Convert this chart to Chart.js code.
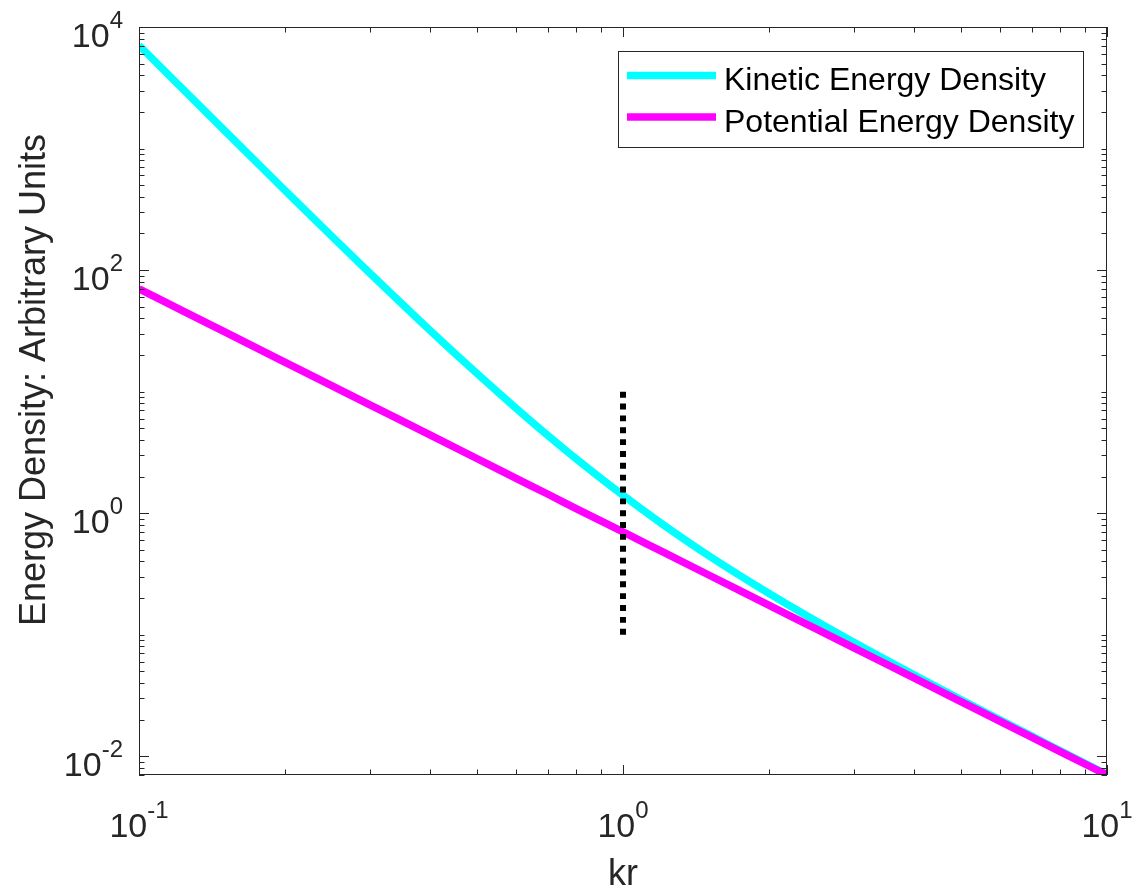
<!DOCTYPE html>
<html>
<head>
<meta charset="utf-8">
<title>Energy Density</title>
<script src="https://cdn.jsdelivr.net/npm/chart.js@4.4.1/dist/chart.umd.min.js"></script>
<style>
  body { margin: 0; background: #fff; }
  canvas { display: block; }
</style>
</head>
<body>
<canvas id="grafica" width="1135" height="888"></canvas>
<script>
// values
const kr = [0.1, 0.12, 0.15, 0.2, 0.25, 0.3, 0.4, 0.5, 0.6, 0.7, 0.8, 1, 1.2, 1.5, 2, 2.5, 3, 4, 5, 6, 7, 8, 10];
const kinetic = [7070, 3425, 1414, 455, 190, 94.2, 31.7, 14.0, 7.35, 4.34, 2.80, 1.40, 0.824, 0.449, 0.219, 0.130, 0.0864, 0.0465, 0.0291, 0.0200, 0.0146, 0.0111, 0.00707];
const potential = [70, 48.6, 31.1, 17.5, 11.2, 7.78, 4.38, 2.80, 1.94, 1.43, 1.09, 0.70, 0.486, 0.311, 0.175, 0.112, 0.0778, 0.0438, 0.028, 0.0194, 0.0143, 0.0109, 0.0070];
// dotted marker at kr = 1
const markerX = [1, 1];
const markerY = [0.1, 10];

const seriesNames = ["Kinetic Energy Density", "Potential Energy Density"];
const seriesColors = ["#00ffff", "#ff00ff"];

// labelled ticks (value, exponent)
const xTicks = [0.1, 1, 10];
const xExp = ["-1", "0", "1"];
const yTicks = [0.01, 1, 100, 10000];
const yExp = ["-2", "0", "2", "4"];

const xLimits = [0.1, 10];
const yLimits = [0.007, 10000];

const fuente = '"Liberation Sans", Arial, Helvetica, sans-serif';
const gris = "#262626";

function puntos(xs, ys) {
  return xs.map(function (v, i) { return { x: v, y: ys[i] }; });
}

// all values m*10^k inside [lo, hi]
function marcasLog(lo, hi) {
  const lista = [];
  for (let k = Math.floor(Math.log10(lo)) - 1; k <= Math.ceil(Math.log10(hi)); k++) {
    for (let m = 1; m <= 9; m++) {
      const v = m * Math.pow(10, k);
      if (v >= lo * 0.9999 && v <= hi * 1.0001) lista.push(v);
    }
  }
  return lista;
}

function esMayor(v, mayores) {
  return mayores.some(function (t) { return Math.abs(Math.log10(v) - Math.log10(t)) < 1e-6; });
}

// "10" with a raised exponent
function potencia(ctx, exp, cx, base, alinear) {
  ctx.font = "34px " + fuente;
  const w1 = ctx.measureText("10").width;
  ctx.font = "24px " + fuente;
  const w2 = ctx.measureText(exp).width;
  const izq = alinear === "right" ? cx - w1 - w2 : cx - (w1 + w2) / 2;
  ctx.textAlign = "left";
  ctx.textBaseline = "alphabetic";
  ctx.font = "34px " + fuente;
  ctx.fillText("10", izq, base);
  ctx.font = "24px " + fuente;
  ctx.fillText(exp, izq + w1, base - 19);
}

const ejes = {
  id: "ejes",
  afterDatasetsDraw(chart) {
    const ctx = chart.ctx;
    const a = chart.chartArea;
    const sx = chart.scales.x;
    const sy = chart.scales.y;
    ctx.save();
    ctx.strokeStyle = gris;
    ctx.lineWidth = 1;
    ctx.strokeRect(a.left + 0.5, a.top + 0.5, a.right - a.left - 1, a.bottom - a.top - 1);

    // ticks pointing inward, all four sides
    ctx.beginPath();
    marcasLog(xLimits[0], xLimits[1]).forEach(function (v) {
      const px = Math.round(sx.getPixelForValue(v)) + 0.5;
      const largo = esMayor(v, xTicks) ? 10 : 5.5;
      ctx.moveTo(px, a.bottom);
      ctx.lineTo(px, a.bottom - largo);
      ctx.moveTo(px, a.top);
      ctx.lineTo(px, a.top + largo);
    });
    marcasLog(yLimits[0], yLimits[1]).forEach(function (v) {
      const py = Math.round(sy.getPixelForValue(v)) + 0.5;
      const largo = esMayor(v, yTicks) ? 10 : 5.5;
      ctx.moveTo(a.left, py);
      ctx.lineTo(a.left + largo, py);
      ctx.moveTo(a.right, py);
      ctx.lineTo(a.right - largo, py);
    });
    ctx.stroke();

    // tick labels
    ctx.fillStyle = gris;
    xTicks.forEach(function (v, i) {
      potencia(ctx, xExp[i], sx.getPixelForValue(v), a.bottom + 62, "center");
    });
    yTicks.forEach(function (v, i) {
      potencia(ctx, yExp[i], a.left - 16, sy.getPixelForValue(v) + 20, "right");
    });

    // axis titles
    ctx.font = "36px " + fuente;
    ctx.textAlign = "center";
    ctx.textBaseline = "alphabetic";
    ctx.fillText("kr", (a.left + a.right) / 2, 885);
    ctx.save();
    ctx.translate(45, 380);
    ctx.rotate(-Math.PI / 2);
    ctx.fillText("Energy Density: Arbitrary Units", 0, 0);
    ctx.restore();

    // legend
    ctx.fillStyle = "#fff";
    ctx.fillRect(618.5, 51.5, 465, 96);
    ctx.strokeStyle = gris;
    ctx.lineWidth = 1;
    ctx.strokeRect(618.5, 51.5, 465, 96);
    ctx.font = "32px " + fuente;
    ctx.textAlign = "left";
    ctx.fillStyle = "#000";
    seriesNames.forEach(function (nombre, i) {
      const fila = 75.5 + i * 41.5;
      ctx.strokeStyle = seriesColors[i];
      ctx.lineWidth = 7.5;
      ctx.beginPath();
      ctx.moveTo(627, fila);
      ctx.lineTo(716, fila);
      ctx.stroke();
      ctx.fillText(nombre, 724, fila + 14.5);
    });
    ctx.restore();
  }
};

const config = {
  type: "line",
  data: {
    datasets: [
      {
        label: "marker",
        data: puntos(markerX, markerY),
        borderColor: "#000",
        borderWidth: 6,
        borderDash: [5.9, 5.95],
        borderCapStyle: "butt",
        pointRadius: 0,
        order: 0
      },
      {
        label: seriesNames[1],
        data: puntos(kr, potential),
        borderColor: seriesColors[1],
        borderWidth: 7.5,
        pointRadius: 0,
        cubicInterpolationMode: "monotone",
        order: 1
      },
      {
        label: seriesNames[0],
        data: puntos(kr, kinetic),
        borderColor: seriesColors[0],
        borderWidth: 7.5,
        pointRadius: 0,
        cubicInterpolationMode: "monotone",
        order: 2
      }
    ]
  },
  options: {
    responsive: false,
    animation: false,
    devicePixelRatio: 1,
    layout: { padding: { left: 139, right: 28, top: 27, bottom: 113 } },
    plugins: { legend: { display: false }, tooltip: { enabled: false } },
    scales: {
      x: { type: "logarithmic", min: xLimits[0], max: xLimits[1], bounds: "data", display: false },
      y: { type: "logarithmic", min: yLimits[0], max: yLimits[1], bounds: "data", display: false }
    }
  },
  plugins: [ejes]
};

new Chart(document.getElementById("grafica"), config);
</script>
</body>
</html>
